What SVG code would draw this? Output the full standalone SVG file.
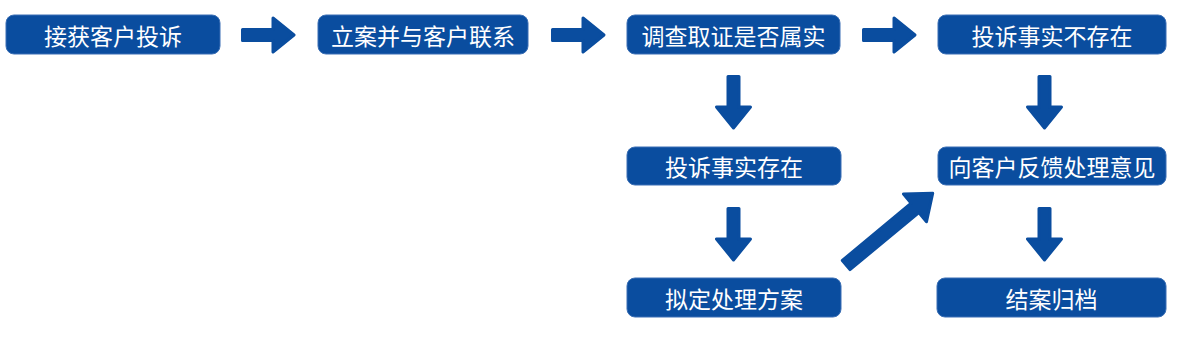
<svg xmlns="http://www.w3.org/2000/svg" xmlns:xlink="http://www.w3.org/1999/xlink" width="1180" height="340" viewBox="0 0 1180 340">
<style>
.box{fill:#0a4d9f;stroke:#3b6fb5;stroke-width:1}
.lbl{fill:#ffffff;font-family:"Noto Sans CJK SC","Noto Sans",sans-serif;font-size:23px;text-anchor:middle;dominant-baseline:central}
.arr{fill:#0a4d9f;stroke:#0a4d9f;stroke-width:3;stroke-linejoin:round}
</style>
<defs>
<path id="a" d="M1.5,-5.5 H32 V-17 L53,0 L32,17 V5.5 H1.5 Z"/>
</defs>
<rect width="1180" height="340" fill="#ffffff"/>
<g id="connectors">
<use xlink:href="#a" class="arr" transform="translate(241,35)"/>
<use xlink:href="#a" class="arr" transform="translate(551,35)"/>
<use xlink:href="#a" class="arr" transform="translate(862,35)"/>
<use xlink:href="#a" class="arr" transform="translate(733.5,75) rotate(90)"/>
<use xlink:href="#a" class="arr" transform="translate(1044.5,75) rotate(90)"/>
<use xlink:href="#a" class="arr" transform="translate(733.5,207) rotate(90)"/>
<use xlink:href="#a" class="arr" transform="translate(1044.5,207) rotate(90)"/>
<path class="arr" transform="translate(845,266) rotate(-39.7)" d="M1.5,-6 H91 V-18 L114,0 L91,18 V6 H1.5 Z"/>
</g>
<g id="n1"><rect class="box" x="6" y="15" width="214" height="39" rx="8"/><text class="lbl" x="113" y="34.5">接获客户投诉</text></g>
<g id="n2"><rect class="box" x="318" y="15" width="210" height="39" rx="8"/><text class="lbl" x="423" y="34.5">立案并与客户联系</text></g>
<g id="n3"><rect class="box" x="627" y="15" width="213" height="39" rx="8"/><text class="lbl" x="733.5" y="34.5">调查取证是否属实</text></g>
<g id="n4"><rect class="box" x="938" y="15" width="228" height="39" rx="8"/><text class="lbl" x="1052" y="34.5">投诉事实不存在</text></g>
<g id="n5"><rect class="box" x="627" y="147" width="214" height="38" rx="8"/><text class="lbl" x="734" y="166">投诉事实存在</text></g>
<g id="n6"><rect class="box" x="938" y="147" width="228" height="38" rx="8"/><text class="lbl" x="1052" y="166">向客户反馈处理意见</text></g>
<g id="n7"><rect class="box" x="627" y="278" width="214" height="39" rx="8"/><text class="lbl" x="734" y="297.5">拟定处理方案</text></g>
<g id="n8"><rect class="box" x="937" y="278" width="229" height="39" rx="8"/><text class="lbl" x="1051.5" y="297.5">结案归档</text></g>
</svg>
